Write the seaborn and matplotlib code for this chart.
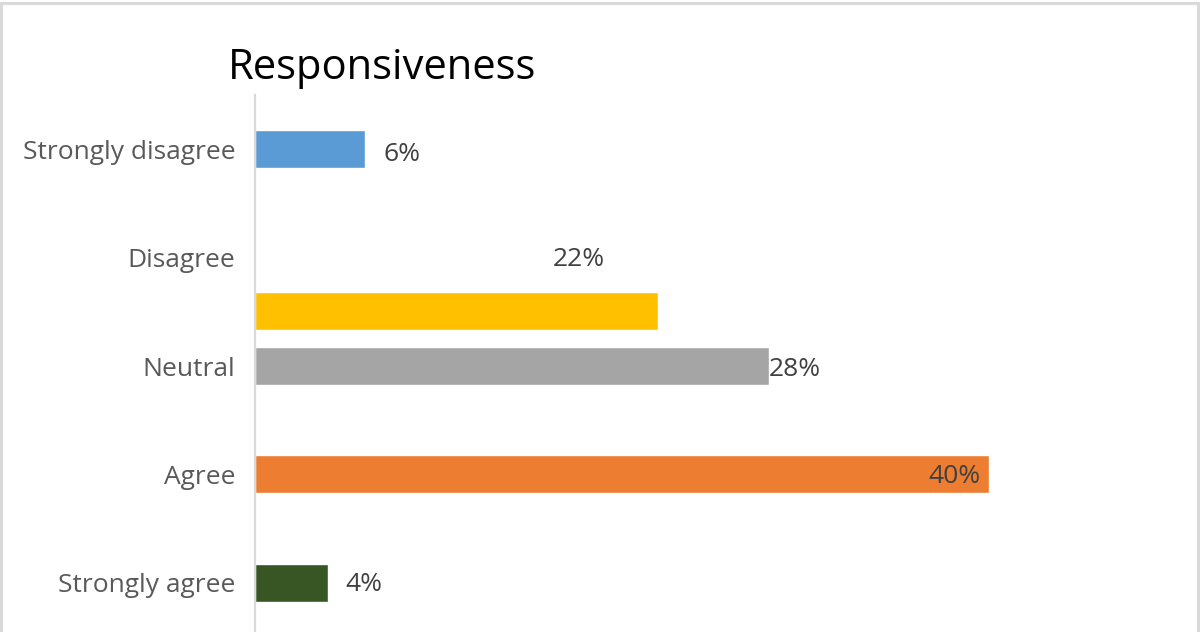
import matplotlib
matplotlib.use("Agg")
import matplotlib.pyplot as plt
import seaborn as sns
import pandas as pd
from matplotlib.patches import Rectangle

# Survey answers for the "Responsiveness" item
categories = ["Strongly disagree", "Disagree", "Neutral", "Agree", "Strongly agree"]
shares = [0.06, 0.22, 0.28, 0.40, 0.04]
value_labels = ["6%", "22%", "28%", "40%", "4%"]
bar_colors = ["#5B9BD5", "#FFC000", "#A5A5A5", "#ED7D31", "#375623"]

df = pd.DataFrame({"category": categories, "share": shares})

sns.set_theme(style="white")
plt.rcParams["font.family"] = ["Open Sans", "DejaVu Sans"]

W, H = 1200, 632
fig = plt.figure(figsize=(W / 100, H / 100), dpi=100)
ax = fig.add_axes([255 / W, 1 - 637 / H, (1172 - 255) / W, 542 / H])

sns.barplot(data=df, x="share", y="category", hue="category", palette=bar_colors,
            order=categories, hue_order=categories, orient="h", width=0.35,
            legend=False, ax=ax, saturation=1)

# the Disagree bar sits half a row lower than its label
for p, cat in zip(ax.patches, categories):
    if cat == "Disagree":
        p.set_y(p.get_y() + 0.49)

ax.set_xlim(0, 0.5)
ax.set_ylim(4.5, -0.5)
ax.set_xlabel("")
ax.set_ylabel("")
ax.set_xticks([])
ax.tick_params(axis="y", length=0, pad=14, labelsize=19, labelcolor="#595959")
for lbl in ax.get_yticklabels():
    lbl.set_y(lbl.get_position()[1])
for s in ["top", "right", "bottom"]:
    ax.spines[s].set_visible(False)
ax.spines["left"].set_color("#D9D9D9")
ax.spines["left"].set_linewidth(1.6)

# value labels
label_style = dict(fontsize=19, color="#404040", va="center", textcoords="offset pixels")
offsets = {
    "Strongly disagree": (18, -5, "left"),
    "Disagree": (-80, -2, "center"),
    "Neutral": (0, -4, "left"),
    "Agree": (-8, -2, "right"),
    "Strongly agree": (17, -2, "left"),
}
for i, (cat, val, txt) in enumerate(zip(categories, shares, value_labels)):
    dx, dy, ha = offsets[cat]
    ax.annotate(txt, xy=(val, i), xytext=(dx, dy), ha=ha, **label_style)

fig.text(228 / W, 1 - 68 / H, "Responsiveness", fontsize=30, color="black",
         ha="left", va="center")

# chart frame
fig.add_artist(Rectangle((1 / W, -0.02), 1 - 3 / W, 1 - 3 / H + 0.02,
                         transform=fig.transFigure, fill=False,
                         edgecolor="#D9D9D9", linewidth=2.2))

fig.savefig("out.png", dpi=100)
